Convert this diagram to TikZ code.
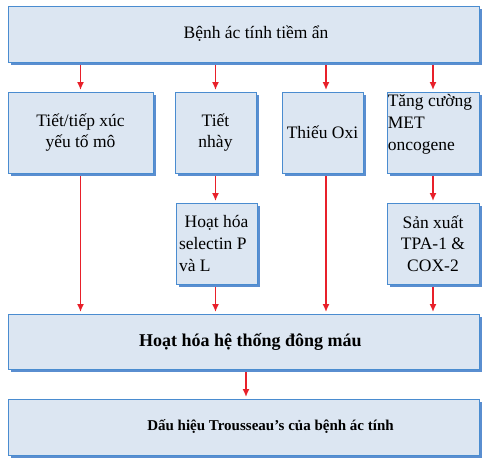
\documentclass[tikz,border=0pt]{standalone}
\usepackage{fontspec}
\setmainfont{Liberation Serif}
\usetikzlibrary{shadows,arrows.meta}
\definecolor{boxfill}{HTML}{DCE6F2}
\definecolor{boxline}{HTML}{4A8CD0}
\definecolor{boxshadow}{HTML}{5A8ED0}
\definecolor{arrowred}{HTML}{E8202A}

\begin{document}
\begin{tikzpicture}[x=1pt,y=1pt,
    font=\fontsize{17.5}{21.7}\selectfont,
    box/.style={draw=boxline, fill=boxfill, line width=0.9pt, inner sep=0pt,
      copy shadow={shadow xshift=3pt, shadow yshift=-3pt, draw=none, fill=boxshadow}},
    flow/.style={draw=arrowred, line width=1.7pt, -{Latex[length=8pt,width=7pt]},
      shorten <=3pt, shorten >=1.5pt}]
    \useasboundingbox (0,0) rectangle (489,-465);
    % top cause
    \node[box, minimum width=471, minimum height=56] (top) at (243.5,-34) {\hspace*{25pt}Bệnh ác tính tiềm ẩn};
    % second row
    \node[box, minimum width=145, minimum height=81, align=center] (tiet) at (80.5,-132.5) {Tiết/tiếp xúc\\yếu tố mô};
    \node[box, minimum width=81, minimum height=81, align=center] (nhay) at (215.5,-132.5) {Tiết\\nhày};
    \node[box, minimum width=81, minimum height=81] (oxi) at (322.5,-132.5) {Thiếu Oxi};
    \node[box, minimum width=92, minimum height=81] (met) at (433,-132.5) {};
    \node[anchor=north west, align=left, inner sep=0pt] (mettext) at ([xshift=1pt,yshift=-3pt]met.north west) {Tăng cường\\MET\\oncogene};
    \coordinate (oxiin) at ([xshift=3.5pt]oxi.north);
    % third row
    \node[box, minimum width=81, minimum height=81, text width=75, align=flush left] (selectin) at (216.5,-243.5) {\hfill Hoạt hóa\hfill\null\\selectin P\\và L};
    \node[box, minimum width=92, minimum height=81, align=center] (tpa) at (433,-243.5) {Sản xuất\\TPA-1 \&\\COX-2};
    % result
    \node[box, minimum width=471, minimum height=55, font=\fontsize{18}{22}\selectfont\bfseries] (coag) at (243.5,-341.5) {\hspace*{14pt}Hoạt hóa hệ thống đông máu};
    \node[box, minimum width=471, minimum height=56, font=\fontsize{15}{18}\selectfont\bfseries] (sign) at (243.5,-427) {\hspace*{54pt}Dấu hiệu Trousseau’s của bệnh ác tính};
    % arrows
    \draw[flow] (top.south -| tiet) -- (tiet.north);
    \draw[flow] (top.south -| nhay) -- (nhay.north);
    \draw[flow] (top.south -| oxiin) -- (oxiin);
    \draw[flow] (top.south -| met) -- (met.north);
    \draw[flow] (nhay.south) -- (nhay.south |- selectin.north);
    \draw[flow] (met.south) -- (tpa.north);
    \draw[flow] (tiet.south) -- (tiet.south |- coag.north);
    \draw[flow] (nhay |- selectin.south) -- (nhay |- coag.north);
    \draw[flow] (oxiin |- oxi.south) -- (oxiin |- coag.north);
    \draw[flow] (tpa.south) -- (tpa.south |- coag.north);
    \draw[flow] ([xshift=2.5pt]coag.south) -- ([xshift=2.5pt]sign.north);
\end{tikzpicture}
\end{document}
